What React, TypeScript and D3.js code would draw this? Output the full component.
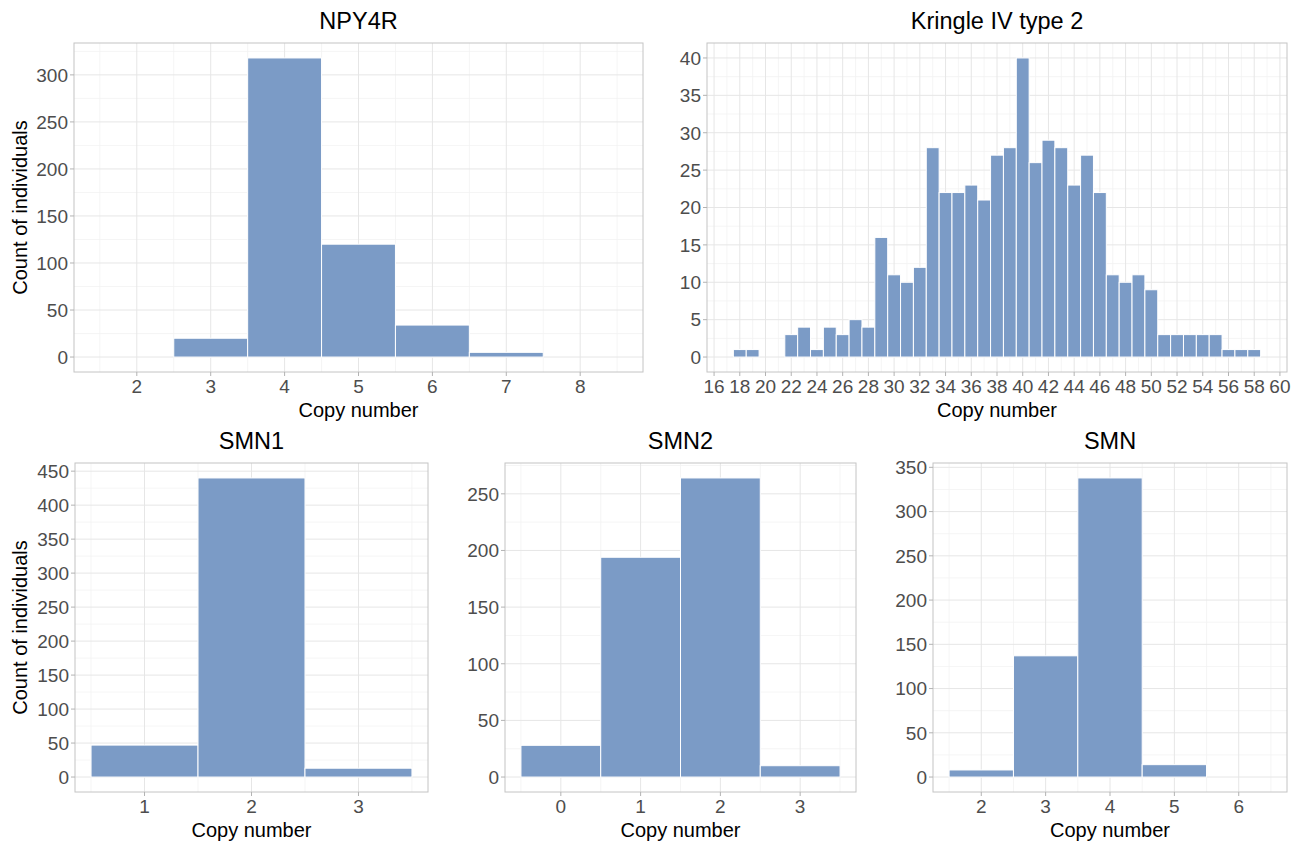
import React from "react";
import * as d3 from "d3";

// ---------- data ----------
const npyCopy = [2, 3, 4, 5, 6, 7, 8];
const npyCount = [0, 20, 318, 120, 34, 5, 0];
const npyXTicks = [2, 3, 4, 5, 6, 7, 8];
const npyYTicks = [0, 50, 100, 150, 200, 250, 300];

const kringleCopy = [18, 19, 20, 21, 22, 23, 24, 25, 26, 27, 28, 29, 30, 31, 32, 33, 34, 35, 36, 37, 38, 39, 40, 41, 42, 43, 44, 45, 46, 47, 48, 49, 50, 51, 52, 53, 54, 55, 56, 57, 58];
const kringleCount = [1, 1, 0, 0, 3, 4, 1, 4, 3, 5, 4, 16, 11, 10, 12, 28, 22, 22, 23, 21, 27, 28, 40, 26, 29, 28, 23, 27, 22, 11, 10, 11, 9, 3, 3, 3, 3, 3, 1, 1, 1];
const kringleXTicks = [16, 18, 20, 22, 24, 26, 28, 30, 32, 34, 36, 38, 40, 42, 44, 46, 48, 50, 52, 54, 56, 58, 60];
const kringleYTicks = [0, 5, 10, 15, 20, 25, 30, 35, 40];

const smn1Copy = [1, 2, 3];
const smn1Count = [47, 440, 13];
const smn1XTicks = [1, 2, 3];
const smn1YTicks = [0, 50, 100, 150, 200, 250, 300, 350, 400, 450];

const smn2Copy = [0, 1, 2, 3];
const smn2Count = [28, 194, 264, 10];
const smn2XTicks = [0, 1, 2, 3];
const smn2YTicks = [0, 50, 100, 150, 200, 250];

const smnCopy = [2, 3, 4, 5, 6];
const smnCount = [8, 137, 338, 14, 0];
const smnXTicks = [2, 3, 4, 5, 6];
const smnYTicks = [0, 50, 100, 150, 200, 250, 300, 350];

const FONT = "'Liberation Sans', Arial, Helvetica, sans-serif";
const BAR = "#7b9bc6";

type PanelProps = {
  title: string;
  copies: number[];
  counts: number[];
  xTicks: number[];
  yTicks: number[];
  left: number;
  right: number;
  top: number;
  bottom: number;
  showYTitle?: boolean;
};

function minorOf(ticks: number[], lo: number, hi: number) {
  const step = ticks[1] - ticks[0];
  const out: number[] = [];
  out.push(ticks[0] - step / 2);
  for (let i = 0; i < ticks.length; i++) out.push(ticks[i] + step / 2);
  return out.filter((v) => v > lo && v < hi);
}

function Panel(p: PanelProps) {
  const xMin = d3.min(p.copies)! - 0.5;
  const xMax = d3.max(p.copies)! + 0.5;
  const xPad = (xMax - xMin) * 0.05;
  const yMax = d3.max(p.counts)!;
  const yPad = yMax * 0.05;
  const x = d3.scaleLinear().domain([xMin - xPad, xMax + xPad]).range([p.left, p.right]);
  const y = d3.scaleLinear().domain([-yPad, yMax + yPad]).range([p.bottom, p.top]);
  const xMinor = minorOf(p.xTicks, xMin - xPad, xMax + xPad);
  const yMinor = minorOf(p.yTicks, -yPad, yMax + yPad);
  const cx = (p.left + p.right) / 2;
  const cy = (p.top + p.bottom) / 2;
  return (
    <g>
      <rect x={p.left} y={p.top} width={p.right - p.left} height={p.bottom - p.top} fill="#fff" />
      {yMinor.map((v) => (
        <line key={"ym" + v} x1={p.left} x2={p.right} y1={y(v)} y2={y(v)} stroke="#f2f2f2" strokeWidth={0.8} />
      ))}
      {xMinor.map((v) => (
        <line key={"xm" + v} x1={x(v)} x2={x(v)} y1={p.top} y2={p.bottom} stroke="#f2f2f2" strokeWidth={0.8} />
      ))}
      {p.yTicks.map((v) => (
        <line key={"yM" + v} x1={p.left} x2={p.right} y1={y(v)} y2={y(v)} stroke="#e6e6e6" strokeWidth={1} />
      ))}
      {p.xTicks.map((v) => (
        <line key={"xM" + v} x1={x(v)} x2={x(v)} y1={p.top} y2={p.bottom} stroke="#e6e6e6" strokeWidth={1} />
      ))}
      {p.copies.map((c, i) =>
        p.counts[i] > 0 ? (
          <rect
            key={"b" + c}
            x={x(c - 0.5)}
            y={y(p.counts[i])}
            width={x(c + 0.5) - x(c - 0.5)}
            height={y(0) - y(p.counts[i])}
            fill={BAR}
            stroke="#ffffff"
            strokeWidth={1}
          />
        ) : null
      )}
      <rect x={p.left} y={p.top} width={p.right - p.left} height={p.bottom - p.top} fill="none" stroke="#c4c4c4" strokeWidth={1} />
      {p.yTicks.map((v) => (
        <g key={"yt" + v}>
          <line x1={p.left - 4} x2={p.left} y1={y(v)} y2={y(v)} stroke="#b3b3b3" strokeWidth={1} />
          <text x={p.left - 6} y={y(v)} dy="0.36em" textAnchor="end" fontSize={19} fill="#4d4d4d" fontFamily={FONT}>
            {v}
          </text>
        </g>
      ))}
      {p.xTicks.map((v) => (
        <g key={"xt" + v}>
          <line x1={x(v)} x2={x(v)} y1={p.bottom} y2={p.bottom + 4} stroke="#b3b3b3" strokeWidth={1} />
          <text x={x(v)} y={p.bottom + 20.5} textAnchor="middle" fontSize={19} fill="#4d4d4d" fontFamily={FONT}>
            {v}
          </text>
        </g>
      ))}
      <text x={cx} y={p.bottom + 45} textAnchor="middle" fontSize={20} fill="#000" fontFamily={FONT}>
        Copy number
      </text>
      <text x={cx} y={p.top - 14} textAnchor="middle" fontSize={23.5} fill="#000" fontFamily={FONT}>
        {p.title}
      </text>
      {p.showYTitle ? (
        <text
          transform={`translate(27,${cy}) rotate(-90)`}
          textAnchor="middle"
          fontSize={20}
          fill="#000"
          fontFamily={FONT}
        >
          Count of individuals
        </text>
      ) : null}
    </g>
  );
}

export default function App() {
  return (
    <svg
      width={1304}
      height={841}
      style={{ position: "absolute", left: 0, top: 0, background: "#fff" }}
    >
      <rect width={1304} height={841} fill="#fff" />
      <Panel title="NPY4R" copies={npyCopy} counts={npyCount} xTicks={npyXTicks} yTicks={npyYTicks}
        left={74} right={643} top={43} bottom={372} showYTitle />
      <Panel title="Kringle IV type 2" copies={kringleCopy} counts={kringleCount} xTicks={kringleXTicks} yTicks={kringleYTicks}
        left={707} right={1287} top={43} bottom={372} />
      <Panel title="SMN1" copies={smn1Copy} counts={smn1Count} xTicks={smn1XTicks} yTicks={smn1YTicks}
        left={75} right={428} top={463} bottom={792} showYTitle />
      <Panel title="SMN2" copies={smn2Copy} counts={smn2Count} xTicks={smn2XTicks} yTicks={smn2YTicks}
        left={505} right={856} top={463} bottom={792} />
      <Panel title="SMN" copies={smnCopy} counts={smnCount} xTicks={smnXTicks} yTicks={smnYTicks}
        left={933} right={1287} top={463} bottom={792} />
    </svg>
  );
}
